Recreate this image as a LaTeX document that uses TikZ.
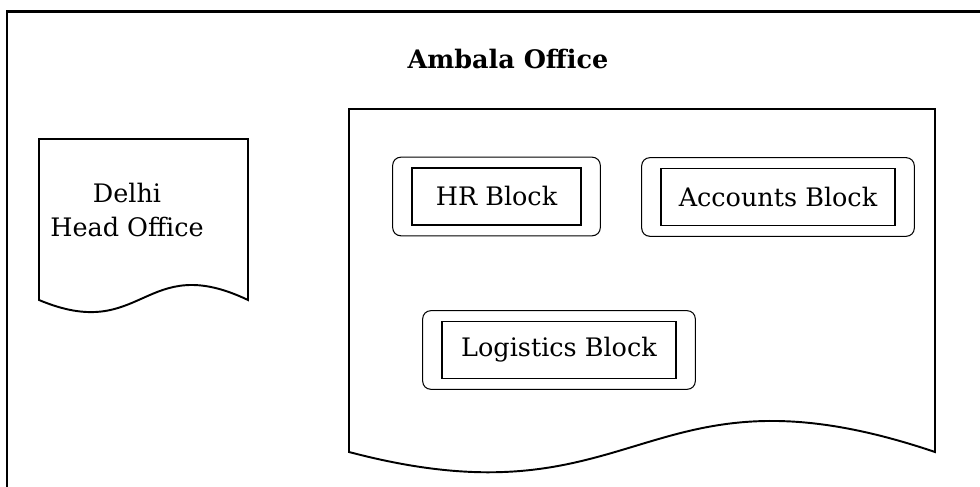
\documentclass[tikz,border=0pt]{standalone}
\usepackage{fontspec}
\setmainfont{DejaVu Serif}
\usepackage{tikz}
\usetikzlibrary{fit}

\tikzset{blk/.style={draw, line width=.9pt, inner sep=0pt, minimum height=1.14cm,
    font=\fontsize{14.5}{19}\selectfont},
  blkframe/.style={draw, line width=.6pt, rounded corners=.16cm,
    inner xsep=.37cm, inner ysep=.2cm},
  docline/.style={line width=1.1pt, line join=miter}}

\begin{document}
\begin{tikzpicture}
\useasboundingbox (0,0) rectangle (19.6,9.74);
\draw[line width=1.7pt] (0.14,0)--(0.14,9.5)--(19.6,9.5);% frame, open at right and bottom
% Delhi head office sheet
\draw[docline] (0.78,3.74)--(0.78,6.96)--(4.96,6.96)--(4.96,3.74)
  .. controls (2.87,4.735) and (2.87,2.861) .. (0.78,3.74)--cycle;
\node[align=center, font=\fontsize{14.5}{18.8}\selectfont] (delhi) at (2.54,5.54) {Delhi\\Head Office};
% Ambala office sheet
\draw[docline] (6.98,0.70)--(6.98,7.56)--(18.70,7.56)--(18.70,0.70)
  .. controls (12.84,2.68) and (12.84,-0.85) .. (6.98,0.70)--cycle;
\node[font=\bfseries\fontsize{14.5}{19}\selectfont] (ambala) at (10.16,8.56) {Ambala Office};
\foreach \nm/\x/\y/\w/\txt in {hr/9.93/5.81/3.38/HR Block,% name, centre, width, text
  acc/15.56/5.80/4.68/Accounts Block,
  log/11.18/2.74/4.68/Logistics Block}{%
\node[blk, minimum width=\w cm] (\nm) at (\x,\y) {\txt};
\node[blkframe, fit=(\nm)] (\nm-fr) {};}
\end{tikzpicture}
\end{document}
